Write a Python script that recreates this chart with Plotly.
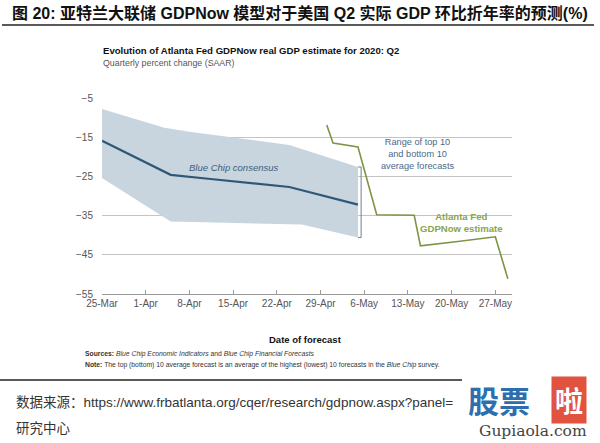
import plotly.graph_objects as go

# ---- data ----
bc_dates = ["2020-03-25", "2020-04-05", "2020-04-11", "2020-04-21", "2020-04-24", "2020-05-05"]
bc_values = [-15.9, -24.6, -25.6, -27.1, -27.7, -32.2]

top_dates = ["2020-03-25", "2020-04-04", "2020-04-08", "2020-04-24", "2020-05-05"]
top_values = [-7.8, -12.6, -13.6, -17.0, -22.6]

bot_dates = ["2020-03-25", "2020-04-05", "2020-04-26", "2020-05-05"]
bot_values = [-25.4, -36.5, -37.3, -40.6]

gdp_dates = ["2020-04-30", "2020-05-01", "2020-05-05", "2020-05-08", "2020-05-14",
             "2020-05-15", "2020-05-21", "2020-05-27", "2020-05-29"]
gdp_values = [-11.9, -16.5, -17.5, -34.8, -34.9, -42.7, -41.6, -40.4, -51.1]

tick_dates = ["2020-03-25", "2020-04-01", "2020-04-08", "2020-04-15", "2020-04-22",
              "2020-04-29", "2020-05-06", "2020-05-13", "2020-05-20", "2020-05-27"]
tick_labels = ["25-Mar", "1-Apr", "8-Apr", "15-Apr", "22-Apr", "29-Apr", "6-May",
               "13-May", "20-May", "27-May"]
y_ticks = [-5, -15, -25, -35, -45, -55]

W, H = 600, 443
L, R, T, B = 102, 512, 98, 294

def px(x):
    return (x - L) / (R - L)

def py(y):
    return (B - y) / (B - T)

NARROW = "Liberation Sans Narrow, Liberation Sans, Arial, sans-serif"
SANS = "Liberation Sans, Arial, sans-serif"
CJK = "Liberation Sans, Noto Sans CJK SC, sans-serif"

fig = go.Figure()

# band polygon
fig.add_trace(go.Scatter(
    x=top_dates + bot_dates[::-1], y=top_values + bot_values[::-1],
    fill="toself", fillcolor="#c8d5de", line=dict(width=0), mode="lines",
    hoverinfo="skip", showlegend=False))

fig.add_trace(go.Scatter(
    x=bc_dates, y=bc_values, mode="lines",
    line=dict(color="#2f5878", width=2.2), showlegend=False))

fig.add_trace(go.Scatter(
    x=gdp_dates, y=gdp_values, mode="lines",
    line=dict(color="#7d9444", width=1.6), showlegend=False))

# bracket at band end
bx = bc_dates[-1] + " 12:00"
bxl = bc_dates[-1]
ytop, ybot = top_values[-1], bot_values[-1]
bc = "#6d8296"
fig.add_shape(type="line", x0=bx, x1=bx, y0=ytop, y1=ybot, line=dict(color=bc, width=1))
fig.add_shape(type="line", x0=bxl, x1=bx, y0=ytop, y1=ytop, line=dict(color=bc, width=1))
fig.add_shape(type="line", x0=bxl, x1=bx, y0=ybot, y1=ybot, line=dict(color=bc, width=1))
ymid = (ytop + ybot) / 2
fig.add_shape(type="path",
              path=f"M {bx},{ymid} Q 2020-05-06 12:00,{ymid} 2020-05-07,{ymid+1.2} L 2020-05-09 12:00,{-25.2}",
              line=dict(color=bc, width=1))

annotations = [
    dict(x=px(101), y=py(51), xref="paper", yref="paper", xanchor="left", yanchor="middle",
         text="<b>Evolution of Atlanta Fed GDPNow real GDP estimate for 2020: Q2</b>",
         showarrow=False, font=dict(family=NARROW, size=9.6, color="#111")),
    dict(x=px(101), y=py(63), xref="paper", yref="paper", xanchor="left", yanchor="middle",
         text="Quarterly percent change (SAAR)",
         showarrow=False, font=dict(family=NARROW, size=8.8, color="#555")),
    dict(x="2020-04-15", y=-22.7, xref="x", yref="y", xanchor="center", yanchor="middle",
         text="<i>Blue Chip consensus</i>", showarrow=False,
         font=dict(family=SANS, size=9.5, color="#3b5f80")),
    dict(x="2020-05-14 12:00", y=-19.3, xref="x", yref="y", xanchor="center", yanchor="middle",
         text="Range of top 10<br>and bottom 10<br>average forecasts", showarrow=False,
         font=dict(family=NARROW, size=9.2, color="#4a6a88")),
    dict(x="2020-05-21 12:00", y=-36.8, xref="x", yref="y", xanchor="center", yanchor="middle",
         text="<b>Atlanta Fed<br>GDPNow estimate</b>", showarrow=False,
         font=dict(family=NARROW, size=9.6, color="#8aa54c")),
    dict(x=px(305), y=py(339), xref="paper", yref="paper", xanchor="center", yanchor="middle",
         text="<b>Date of forecast</b>", showarrow=False,
         font=dict(family=NARROW, size=9.5, color="#111")),
    dict(x=px(83), y=py(354), xref="paper", yref="paper", xanchor="left", yanchor="middle",
         text="<b>Sources:</b> <i>Blue Chip Economic Indicators</i> and <i>Blue Chip Financial Forecasts</i>",
         showarrow=False, font=dict(family=NARROW, size=6.8, color="#333")),
    dict(x=px(83), y=py(365), xref="paper", yref="paper", xanchor="left", yanchor="middle",
         text="<b>Note:</b> The top (bottom) 10 average forecast is an average of the highest (lowest) 10 forecasts in the <i>Blue Chip</i> survey.",
         showarrow=False, font=dict(family=NARROW, size=6.8, color="#333")),
    dict(x=px(10), y=py(13), xref="paper", yref="paper", xanchor="left", yanchor="middle",
         text="<b>图 20: 亚特兰大联储 GDPNow 模型对于美国 Q2 实际 GDP 环比折年率的预测(%)</b>",
         showarrow=False, font=dict(family=CJK, size=16, color="#111")),
    dict(x=px(14), y=py(402), xref="paper", yref="paper", xanchor="left", yanchor="middle",
         text="数据来源：https://www.frbatlanta.org/cqer/research/gdpnow.aspx?panel=",
         showarrow=False, font=dict(family=CJK, size=13.5, color="#333")),
    dict(x=px(14), y=py(428), xref="paper", yref="paper", xanchor="left", yanchor="middle",
         text="研究中心", showarrow=False, font=dict(family=CJK, size=13.5, color="#333")),
    dict(x=px(499), y=py(399), xref="paper", yref="paper", xanchor="center", yanchor="middle",
         text="<b>股票</b>", showarrow=False,
         font=dict(family="Noto Sans CJK SC", size=31, color="#2d6fae")),
    dict(x=px(569), y=py(400), xref="paper", yref="paper", xanchor="center", yanchor="middle",
         text="<b>啦</b>", showarrow=False, bgcolor="#e2533f", borderpad=3,
         font=dict(family="Noto Sans CJK SC", size=28, color="#ffffff")),
    dict(x=px(533), y=py(431), xref="paper", yref="paper", xanchor="center", yanchor="middle",
         text="Gupiaola.com", showarrow=False,
         font=dict(family="DejaVu Serif, serif", size=15.5, color="#444")),
]

shapes_paper = [
    dict(type="line", xref="paper", yref="paper", x0=px(2), x1=px(594), y0=py(25), y1=py(25),
         line=dict(color="#222", width=1.5)),
    dict(type="line", xref="paper", yref="paper", x0=px(0), x1=px(462), y0=py(380), y1=py(380),
         line=dict(color="#222", width=1.5)),
]
for s in shapes_paper:
    fig.add_shape(**s)

fig.update_layout(
    width=W, height=H,
    margin=dict(l=L, r=W - R, t=T, b=H - B),
    paper_bgcolor="white", plot_bgcolor="white",
    annotations=annotations,
    showlegend=False,
    xaxis=dict(
        type="date", range=["2020-03-25", "2020-05-29 16:00"],
        tickvals=tick_dates, ticktext=tick_labels,
        showgrid=False, showline=True, linecolor="#999", linewidth=1,
        ticks="inside", ticklen=4, tickcolor="#999",
        tickfont=dict(family=NARROW, size=10, color="#555"),
        zeroline=False, fixedrange=True,
    ),
    yaxis=dict(
        range=[-55, -5], tickvals=y_ticks,
        showgrid=True, gridcolor="#c4c4c4", gridwidth=1,
        showline=False, zeroline=False, ticks="",
        ticklabelstandoff=8,
        tickfont=dict(family=NARROW, size=10, color="#555"),
    ),
)

fig.write_html("out.html", config={"displayModeBar": False},
               post_script="document.body.style.margin='0';document.body.style.overflow='hidden';")
